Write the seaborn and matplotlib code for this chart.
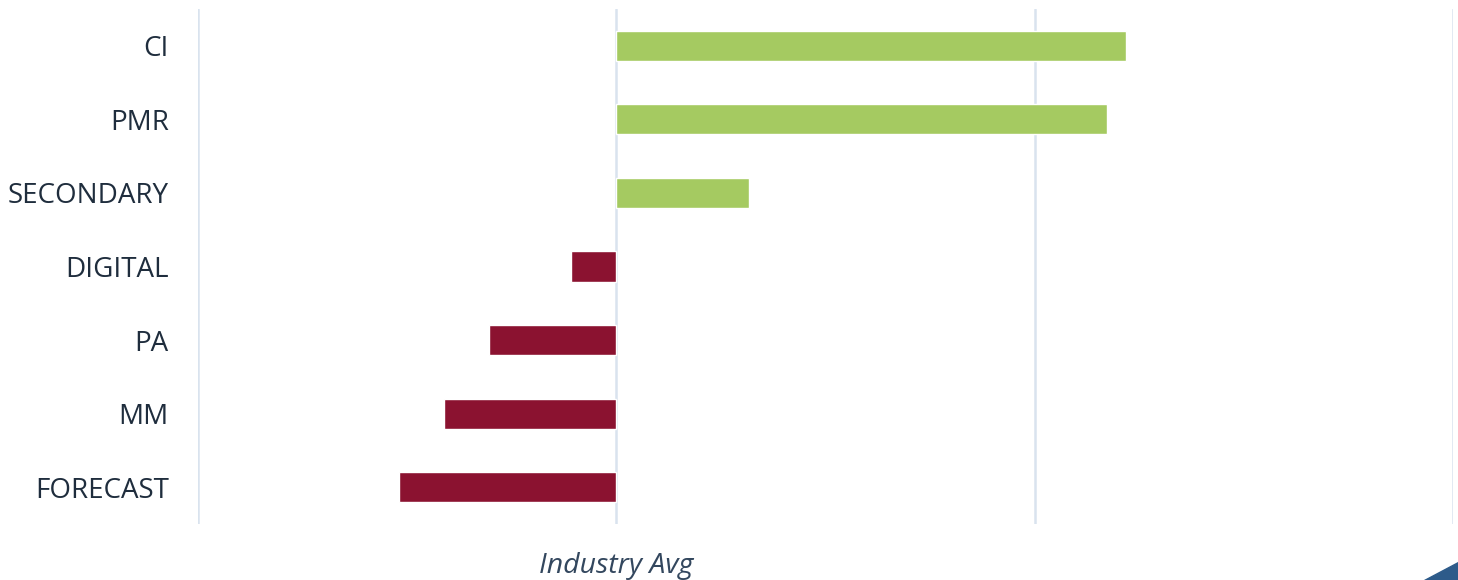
import matplotlib
matplotlib.use("Agg")
import matplotlib.pyplot as plt
import matplotlib.patches as mpatches
import seaborn as sns
import pandas as pd

# Score relative to industry average, one bar per capability
categories = ["CI", "PMR", "SECONDARY", "DIGITAL", "PA", "MM", "FORECAST"]
scores = [1.218, 1.172, 0.318, -0.108, -0.304, -0.411, -0.519]
x_ticks = [-1, 0, 1, 2]

GREEN = "#A5CA61"
RED = "#8B1230"
GRID = "#D9E3EE"
TEXT = "#1F2D3D"

df = pd.DataFrame({"category": categories, "score": scores})
palette = {c: (GREEN if s >= 0 else RED) for c, s in zip(categories, scores)}

sns.set_theme(style="white")
plt.rcParams["font.family"] = ["Open Sans", "DejaVu Sans"]

fig = plt.figure(figsize=(14.58, 5.80), dpi=100)
ax = fig.add_axes([198 / 1458, 1 - 524 / 580, (1453 - 198) / 1458, (524 - 9) / 580])

sns.barplot(data=df, x="score", y="category", hue="category", palette=palette,
            order=categories, width=0.41, legend=False, ax=ax, saturation=1)

ax.set_xlim(-1, 2)
ax.set_ylim(6.5, -0.5)
ax.set_xticks(x_ticks)
ax.set_xticklabels([])
ax.tick_params(axis="both", length=0)
ax.xaxis.grid(True, color=GRID, linewidth=1.8)
ax.set_axisbelow(True)
for s in ax.spines.values():
    s.set_visible(False)
ax.set_xlabel("")
ax.set_ylabel("")
for lbl in ax.get_yticklabels():
    lbl.set_fontsize(20)
    lbl.set_color(TEXT)
ax.tick_params(axis="y", pad=21)

fig.text(616 / 1458, 1 - 566 / 580, "Industry Avg", ha="center", va="center",
         fontsize=20.5, style="italic", color="#33475E")

# Corner accent
tri = mpatches.Polygon([(1424 / 1458, 0), (1, 0), (1, 18 / 580)], closed=True,
                       transform=fig.transFigure, color="#2D5B8A", zorder=5)
fig.patches.append(tri)

fig.savefig("out.png", dpi=100, facecolor="white")
